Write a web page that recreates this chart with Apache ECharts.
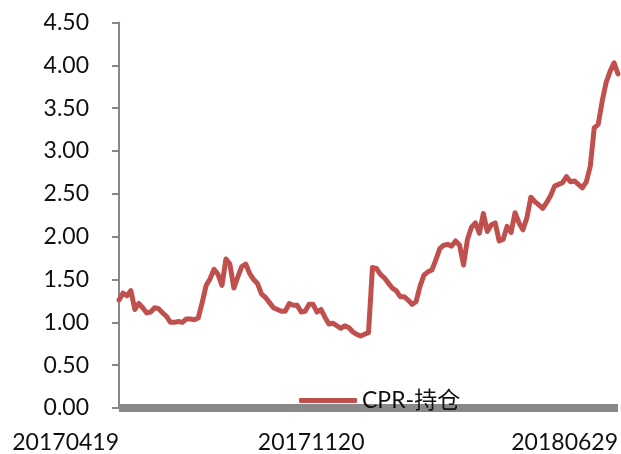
<!DOCTYPE html>
<html>
<head>
<meta charset="utf-8">
<script src="https://cdn.jsdelivr.net/npm/echarts@6/dist/echarts.min.js"></script>
<style>
html,body{margin:0;padding:0;background:#fff;}
#chart{width:621px;height:454px;}
</style>
</head>
<body>
<div id="chart"></div>
<script>
var seriesName = 'CPR-持仓';
var dates = [
'20170419','20170420','20170424','20170427',
'20170501','20170504','20170508','20170511','20170515','20170518','20170522','20170525','20170529',
'20170601','20170605','20170608','20170612','20170615','20170619','20170622','20170626','20170629',
'20170703','20170706','20170710','20170713','20170717','20170720','20170724','20170727','20170731',
'20170803','20170807','20170810','20170814','20170817','20170821','20170824','20170828','20170831',
'20170904','20170907','20170911','20170914','20170918','20170921','20170925','20170928',
'20171002','20171005','20171009','20171012','20171016','20171019','20171023','20171026','20171030',
'20171102','20171106','20171109','20171113','20171116','20171120',
'20171123','20171127','20171130',
'20171204','20171207','20171211','20171214','20171218','20171221','20171225','20171228',
'20180101','20180104','20180108','20180111','20180115','20180118','20180122','20180125','20180129',
'20180201','20180205','20180208','20180212','20180215','20180219','20180222','20180226',
'20180301','20180305','20180308','20180312','20180315','20180319','20180322','20180326','20180329',
'20180402','20180405','20180409','20180412','20180416','20180419','20180423','20180426','20180430',
'20180503','20180507','20180510','20180514','20180517','20180521','20180524','20180528','20180531',
'20180604','20180607','20180611','20180614','20180618','20180621','20180625','20180628','20180629'
];
var values = [
1.26,1.34,1.31,1.37,1.15,1.22,1.17,1.11,1.12,1.17,
1.16,1.11,1.07,1.00,1.00,1.01,1.00,1.04,1.04,1.03,
1.05,1.23,1.43,1.51,1.62,1.56,1.43,1.74,1.68,1.40,
1.53,1.65,1.68,1.57,1.50,1.45,1.33,1.29,1.23,1.17,
1.15,1.13,1.13,1.22,1.20,1.20,1.12,1.13,1.21,1.21,
1.12,1.15,1.06,0.98,0.99,0.96,0.93,0.96,0.94,0.89,
0.86,0.84,0.86,0.88,1.64,1.63,1.56,1.52,1.46,1.40,
1.37,1.30,1.30,1.26,1.21,1.24,1.42,1.55,1.59,1.61,
1.73,1.86,1.90,1.91,1.89,1.95,1.90,1.67,1.97,2.11,
2.16,2.04,2.27,2.06,2.14,2.16,1.95,1.97,2.12,2.05,
2.28,2.16,2.08,2.22,2.46,2.41,2.37,2.33,2.40,2.48,
2.59,2.61,2.63,2.70,2.64,2.65,2.61,2.57,2.64,2.82,
3.27,3.31,3.58,3.80,3.93,4.03,3.90
];
var xTickLabels = ['20170419','20171120','20180629'];
var yMin = 0, yMax = 4.5, yStep = 0.5;

var fontFam = "Lato, 'Noto Sans CJK SC', sans-serif";
var chart = echarts.init(document.getElementById('chart'), null, {renderer:'canvas'});
chart.setOption({
  animation: false,
  backgroundColor: '#ffffff',
  grid: {left: 119, right: 2, top: 22.5, bottom: 46, containLabel: false},
  legend: {
    data: [{name: seriesName, icon: 'roundRect'}],
    left: 294, top: 384,
    itemWidth: 58, itemHeight: 5,
    textStyle: {fontFamily: fontFam, fontSize: 23, color: '#111'}
  },
  xAxis: {
    type: 'category',
    data: dates,
    boundaryGap: false,
    offset: 4,
    axisLine: {show: true, lineStyle: {color: '#898989', width: 8, cap: 'butt'}},
    axisTick: {show: false},
    splitLine: {show: false},
    axisLabel: {
      interval: function (idx, val) { return xTickLabels.indexOf(val) >= 0; },
      align: 'right',
      margin: 19,
      fontFamily: fontFam, fontSize: 23, color: '#111',
      showMinLabel: true, showMaxLabel: true
    }
  },
  yAxis: {
    type: 'value',
    min: yMin, max: yMax, interval: yStep,
    axisLine: {show: true, lineStyle: {color: '#888888', width: 2}},
    axisTick: {show: true, inside: false, length: 7, lineStyle: {color: '#888888', width: 2}},
    splitLine: {show: false},
    axisLabel: {
      margin: 30,
      fontFamily: fontFam, fontSize: 23, color: '#111',
      formatter: function (v) { return v.toFixed(2); }
    }
  },
  series: [{
    name: seriesName,
    type: 'line',
    data: values,
    showSymbol: false,
    symbol: 'none',
    smooth: false,
    lineStyle: {color: '#C0504D', width: 5, join: 'round', cap: 'round'},
    itemStyle: {color: '#C0504D'}
  }]
});
</script>
</body>
</html>
